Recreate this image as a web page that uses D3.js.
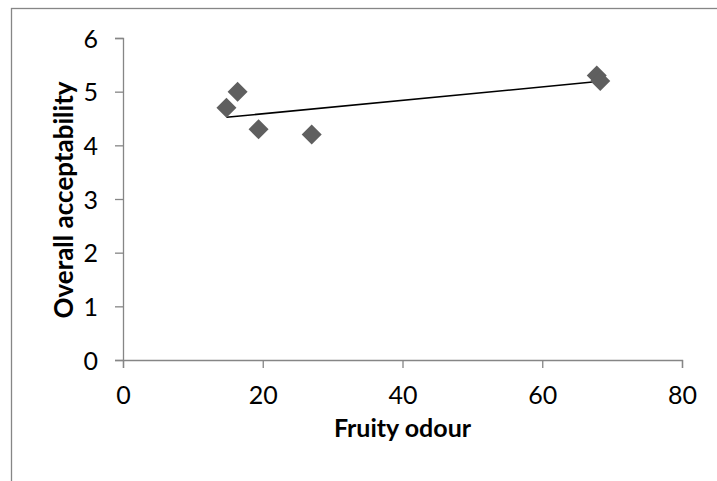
<!DOCTYPE html>
<html>
<head>
<meta charset="utf-8">
<script src="https://cdn.jsdelivr.net/npm/d3@7"></script>
<style>
html,body{margin:0;padding:0;background:#fff;overflow:hidden;}
svg{display:block;}
</style>
</head>
<body>
<svg id="chart" width="717" height="481"></svg>
<script>
// Data
const fruityOdour = [14.8, 16.4, 19.4, 27.0, 67.8, 68.3];
const overallAcceptability = [4.7, 5.0, 4.3, 4.2, 5.3, 5.2];
const xTicks = [0, 20, 40, 60, 80];
const yTicks = [0, 1, 2, 3, 4, 5, 6];
const xTitle = "Fruity odour";
const yTitle = "Overall acceptability";

const svg = d3.select("#chart");
const FONT = "Lato, 'Open Sans', 'Liberation Sans', sans-serif";
const axisColor = "#868686";

// outer chart border (cropped by the viewport on right and bottom)
svg.append("rect").attr("x", 11.5).attr("y", 8.5).attr("width", 800).attr("height", 600)
  .attr("fill", "none").attr("stroke", axisColor).attr("stroke-width", 1.3);

const x = d3.scaleLinear().domain([0, 80]).range([123, 682]);
const y = d3.scaleLinear().domain([0, 6]).range([360, 38]);

// axes
const gx = svg.append("g").attr("transform", `translate(0,${y(0)})`)
  .call(d3.axisBottom(x).tickValues(xTicks).tickSize(8).tickPadding(18).tickFormat(d3.format("d")));
const gy = svg.append("g").attr("transform", `translate(${x(0)},0)`)
  .call(d3.axisLeft(y).tickValues(yTicks).tickSize(8).tickPadding(17).tickFormat(d3.format("d")));
[gx, gy].forEach(g => {
  g.select(".domain").attr("stroke", axisColor).attr("stroke-width", 1.3);
  g.selectAll(".tick line").attr("stroke", axisColor).attr("stroke-width", 1.3);
  g.selectAll(".tick text").attr("fill", "#000").style("font-family", FONT).style("font-size", "25px");
});
gx.selectAll(".tick text").attr("dy", "0.71em");
gy.selectAll(".tick text").attr("dy", "0.36em");

// trendline (least squares)
const n = fruityOdour.length;
const mx = d3.mean(fruityOdour), my = d3.mean(overallAcceptability);
let sxy = 0, sxx = 0;
for (let i = 0; i < n; i++) {
  sxy += (fruityOdour[i] - mx) * (overallAcceptability[i] - my);
  sxx += (fruityOdour[i] - mx) ** 2;
}
const slope = sxy / sxx, icpt = my - slope * mx;
const ext = d3.extent(fruityOdour);
svg.append("line")
  .attr("x1", x(ext[0])).attr("y1", y(icpt + slope * ext[0]))
  .attr("x2", x(ext[1])).attr("y2", y(icpt + slope * ext[1]))
  .attr("stroke", "#000").attr("stroke-width", 1.6);

// points
const sym = d3.symbol().type(d3.symbolSquare).size(200);
svg.append("g").selectAll("path").data(fruityOdour).join("path")
  .attr("d", sym)
  .attr("transform", (d, i) => `translate(${x(d)},${y(overallAcceptability[i])}) rotate(45)`)
  .attr("fill", "#5f5f5f");

// axis titles
svg.append("text").attr("x", 402.5).attr("y", 437).attr("text-anchor", "middle")
  .style("font-family", FONT).style("font-size", "25px").style("font-weight", "bold")
  .text(xTitle);
svg.append("text").attr("transform", "translate(73,200) rotate(-90)").attr("text-anchor", "middle")
  .style("font-family", FONT).style("font-size", "26px").style("font-weight", "bold")
  .text(yTitle);
</script>
</body>
</html>
